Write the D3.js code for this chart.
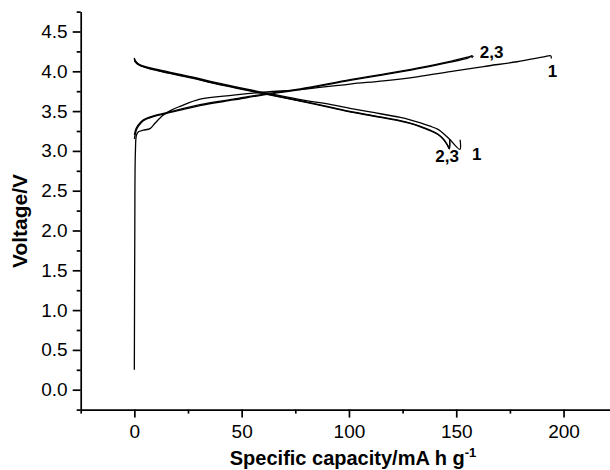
<!DOCTYPE html>
<html>
<head>
<meta charset="utf-8">
<script src="https://cdn.jsdelivr.net/npm/d3@7"></script>
<style>
  html, body { margin: 0; padding: 0; background: #fff; }
  svg { display: block; }
  text { font-family: "Liberation Sans", Arial, sans-serif; fill: #000; }
</style>
</head>
<body>
<svg id="chart" width="610" height="470"></svg>
<script>
// ---- Data (capacity mA h g-1, voltage V) ----
const charge1 = [[0,0.25],[0.2,1.9],[0.5,3.0],[1.0,3.2],[1.9,3.24],[4.2,3.26],[7.3,3.28],[9.7,3.35],[13.5,3.45],[17,3.51],[21.3,3.56],[30.6,3.65],[46.2,3.70],[61.7,3.74],[77.3,3.77],[100.5,3.84],[116.1,3.88],[131.7,3.93],[147.2,3.995],[162.7,4.06],[178.3,4.12],[190.7,4.18],[194.0,4.195],[194.3,4.16]];
const charge2 = [[0,3.15],[0.8,3.25],[1.9,3.31],[4.2,3.38],[8.9,3.43],[15.1,3.47],[30.6,3.57],[46.2,3.64],[61.7,3.71],[77.3,3.77],[100.5,3.885],[116.1,3.955],[131.7,4.03],[147.2,4.115],[155.7,4.17],[157.0,4.185],[157.6,4.17]];
const charge3 = [[0,3.20],[0.8,3.28],[1.9,3.33],[4.2,3.39],[8.9,3.44],[15.1,3.48],[30.6,3.58],[46.2,3.65],[61.7,3.72],[77.3,3.78],[100.5,3.895],[116.1,3.965],[131.7,4.04],[147.2,4.125],[155.7,4.18],[157.4,4.195],[158.0,4.18]];
const discharge1 = [[0,4.17],[0.5,4.13],[2.7,4.08],[11.2,4.02],[26.8,3.93],[37.6,3.86],[61.7,3.725],[77.3,3.645],[93,3.575],[100.5,3.535],[112,3.48],[123.9,3.42],[128.5,3.39],[133,3.355],[137.8,3.31],[141.5,3.27],[144.0,3.22],[146.8,3.15],[151.7,3.02],[151.8,3.14]];
const discharge2 = [[0,4.16],[0.5,4.12],[2.7,4.075],[11.2,4.01],[26.8,3.92],[37.6,3.85],[61.7,3.715],[77.3,3.63],[93,3.54],[100.5,3.495],[112,3.44],[123.9,3.38],[128.5,3.35],[133,3.31],[137.8,3.26],[141.5,3.21],[144.0,3.15],[145.8,3.08],[146.8,3.03],[146.9,3.15]];
const discharge3 = [[0,4.15],[0.5,4.115],[2.7,4.07],[11.2,4.005],[26.8,3.915],[37.6,3.845],[61.7,3.71],[77.3,3.625],[93,3.535],[100.5,3.49],[112,3.435],[123.9,3.375],[128.5,3.345],[133,3.305],[137.8,3.255],[141.5,3.205],[144.0,3.145],[145.8,3.075],[146.8,3.025],[146.9,3.15]];

const xMajorTicks = [0, 50, 100, 150, 200];
const xMinorTicks = [-25, 25, 75, 125, 175, 225];
const yMajorTicks = [0.0, 0.5, 1.0, 1.5, 2.0, 2.5, 3.0, 3.5, 4.0, 4.5];
const yMinorTicks = [-0.25, 0.25, 0.75, 1.25, 1.75, 2.25, 2.75, 3.25, 3.75, 4.25, 4.75];

const labelTexts = ["2,3", "1", "2,3", "1"];
const labelX = [161.0, 192.6, 140.2, 157.3];
const labelY = [4.17, 3.93, 2.86, 2.89];

const xTitle = "Specific capacity/mA h g";
const xTitleSup = "-1";
const yTitle = "Voltage/V";

// ---- Chart ----
const svg = d3.select("#chart");
const x = d3.scaleLinear().domain([-25, 225]).range([80.7, 617.2]);
const y = d3.scaleLinear().domain([-0.25, 4.75]).range([409.6, 11.6]);
const y0 = y(-0.25), x0 = x(-25);

const fontSize = 19;

// x axis
const gx = svg.append("g").attr("transform", `translate(0,${y0})`);
gx.call(d3.axisBottom(x).tickValues(xMajorTicks).tickSize(8).tickPadding(7).tickSizeOuter(0).tickFormat(d3.format("d")));
const gxm = svg.append("g").attr("transform", `translate(0,${y0})`);
gxm.call(d3.axisBottom(x).tickValues(xMinorTicks).tickSize(4).tickSizeOuter(0).tickFormat(""));
gxm.select(".domain").remove();

// y axis
const gy = svg.append("g").attr("transform", `translate(${x0},0)`);
gy.call(d3.axisLeft(y).tickValues(yMajorTicks).tickSize(8).tickPadding(5).tickSizeOuter(0).tickFormat(d3.format(".1f")));
const gym = svg.append("g").attr("transform", `translate(${x0},0)`);
gym.call(d3.axisLeft(y).tickValues(yMinorTicks).tickSize(4).tickSizeOuter(0).tickFormat(""));
gym.select(".domain").remove();

svg.selectAll(".domain, .tick line").attr("stroke", "#000").attr("stroke-width", 1.7);
svg.selectAll(".tick text").attr("font-size", fontSize).attr("font-family", "Liberation Sans, Arial, sans-serif").attr("fill", "#000");

// curves
const line = d3.line().x(d => x(d[0])).y(d => y(d[1])).curve(d3.curveCatmullRom.alpha(0.5));
const series = [charge1, charge2, charge3, discharge1, discharge2, discharge3];
svg.append("g").selectAll("path").data(series).join("path")
  .attr("d", line)
  .attr("fill", "none")
  .attr("stroke", "#000")
  .attr("stroke-width", 1.3)
  .attr("stroke-linejoin", "round");

// cycle labels
svg.append("g").selectAll("text").data(labelTexts).join("text")
  .attr("x", (d, i) => x(labelX[i]))
  .attr("y", (d, i) => y(labelY[i]))
  .attr("font-size", 17)
  .attr("font-weight", "bold")
  .text(d => d);

// axis titles
const xt = svg.append("text")
  .attr("x", 353)
  .attr("y", 465)
  .attr("text-anchor", "middle")
  .attr("font-size", 20)
  .attr("font-weight", "bold");
xt.append("tspan").text(xTitle);
xt.append("tspan").attr("font-size", 13).attr("dy", -8).text(xTitleSup);

svg.append("text")
  .attr("transform", `translate(27,${221}) rotate(-90)`)
  .attr("text-anchor", "middle")
  .attr("font-size", 21)
  .attr("font-weight", "bold")
  .text(yTitle);
</script>
</body>
</html>
